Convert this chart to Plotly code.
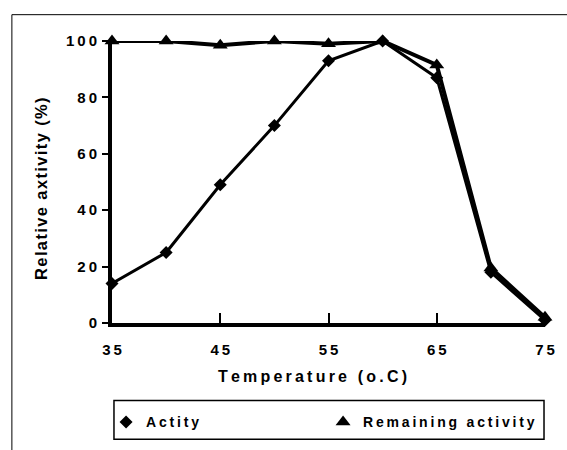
import plotly.graph_objects as go

# ---- data ----
temperature = [35, 40, 45, 50, 55, 60, 65, 70, 75]
actity = [14, 25, 49, 70, 93, 100, 87, 18, 1]
remaining = [100, 100, 98.5, 100, 99, 100, 91.5, 19.5, 2]
x_ticks = [35, 45, 55, 65, 75]
y_ticks = [0, 20, 40, 60, 80, 100]
x_title = "Temperature (o.C)"
y_title = "Relative axtivity (%)"
names = ["Actity", "Remaining activity"]

W, H = 567, 450
L, R, T, B = 112, 16, 41, 125
FONT = "Liberation Sans, Arial, sans-serif"
TS = "\u2009"  # thin space used as letter spacing


def spaced(s, sep=TS):
    return "<b>" + sep.join(s) + "</b>"


def px_x(px):
    return (px - L) / (W - L - R)


def px_y(py):
    return (H - B - py) / (H - T - B)


fig = go.Figure()

fig.add_trace(go.Scatter(
    x=temperature, y=actity, mode="lines+markers", showlegend=False,
    line=dict(color="black", width=3),
    marker=dict(symbol="diamond", size=10, color="black"),
    cliponaxis=False,
))
fig.add_trace(go.Scatter(
    x=temperature, y=remaining, mode="lines+markers", showlegend=False,
    line=dict(color="black", width=4),
    marker=dict(symbol="triangle-up", size=13, color="black"),
    cliponaxis=False,
))
# legend entries (marker only, as in the reference)
fig.add_trace(go.Scatter(
    x=[None], y=[None], mode="markers", name=spaced(names[0]),
    marker=dict(symbol="diamond", size=10, color="black"),
))
fig.add_trace(go.Scatter(
    x=[None], y=[None], mode="markers", name=spaced(names[1]),
    marker=dict(symbol="triangle-up", size=13, color="black"),
))

tickfont = dict(family=FONT, size=15, color="black")

fig.update_xaxes(
    range=[35, 75], tickvals=x_ticks, ticktext=[spaced(str(v)) for v in x_ticks],
    showline=True, linewidth=4, linecolor="black", mirror=False,
    ticks="inside", ticklen=10, tickwidth=2, tickcolor="black",
    showgrid=False, zeroline=False, tickfont=tickfont, ticklabelstandoff=10,
)
fig.update_yaxes(
    range=[0, 100], tickvals=y_ticks, ticktext=[spaced(str(v)) for v in y_ticks],
    showline=True, linewidth=4, linecolor="black",
    ticks="outside", ticklen=6, tickwidth=2, tickcolor="black",
    showgrid=False, zeroline=False, tickfont=tickfont, ticklabelstandoff=2,
)

fig.update_layout(
    width=W, height=H,
    margin=dict(l=L, r=R, t=T, b=B, pad=0),
    paper_bgcolor="white", plot_bgcolor="white",
    font=dict(family=FONT, color="black"),
    showlegend=True,
    legend=dict(
        orientation="h", x=px_x(106), xanchor="left", y=px_y(425), yanchor="middle",
        bgcolor="rgba(0,0,0,0)", borderwidth=0,
        font=dict(family=FONT, size=14, color="black"),
        entrywidth=172, entrywidthmode="pixels", itemwidth=30,
    ),
    shapes=[
        # outer chart frame (continues past the right and bottom edges)
        dict(type="rect", xref="paper", yref="paper",
             x0=px_x(10.5), x1=px_x(700), y0=px_y(14.5), y1=px_y(600),
             line=dict(color="black", width=1), fillcolor="rgba(0,0,0,0)", layer="below"),
        # legend box
        dict(type="rect", xref="paper", yref="paper",
             x0=px_x(114), x1=px_x(550), y0=px_y(403), y1=px_y(442),
             line=dict(color="black", width=1.5), fillcolor="rgba(0,0,0,0)"),
    ],
    annotations=[
        dict(text=spaced(x_title), xref="paper", yref="paper",
             x=px_x(315), y=px_y(379), xanchor="center", yanchor="middle",
             showarrow=False,
             font=dict(family=FONT, size=16, color="black")),
        dict(text=spaced(y_title, "\u200a"), xref="paper", yref="paper",
             x=px_x(40), y=px_y(189), xanchor="center", yanchor="middle",
             textangle=-90, showarrow=False,
             font=dict(family=FONT, size=16.5, color="black")),
    ],
)

fig.write_html("out.html")
